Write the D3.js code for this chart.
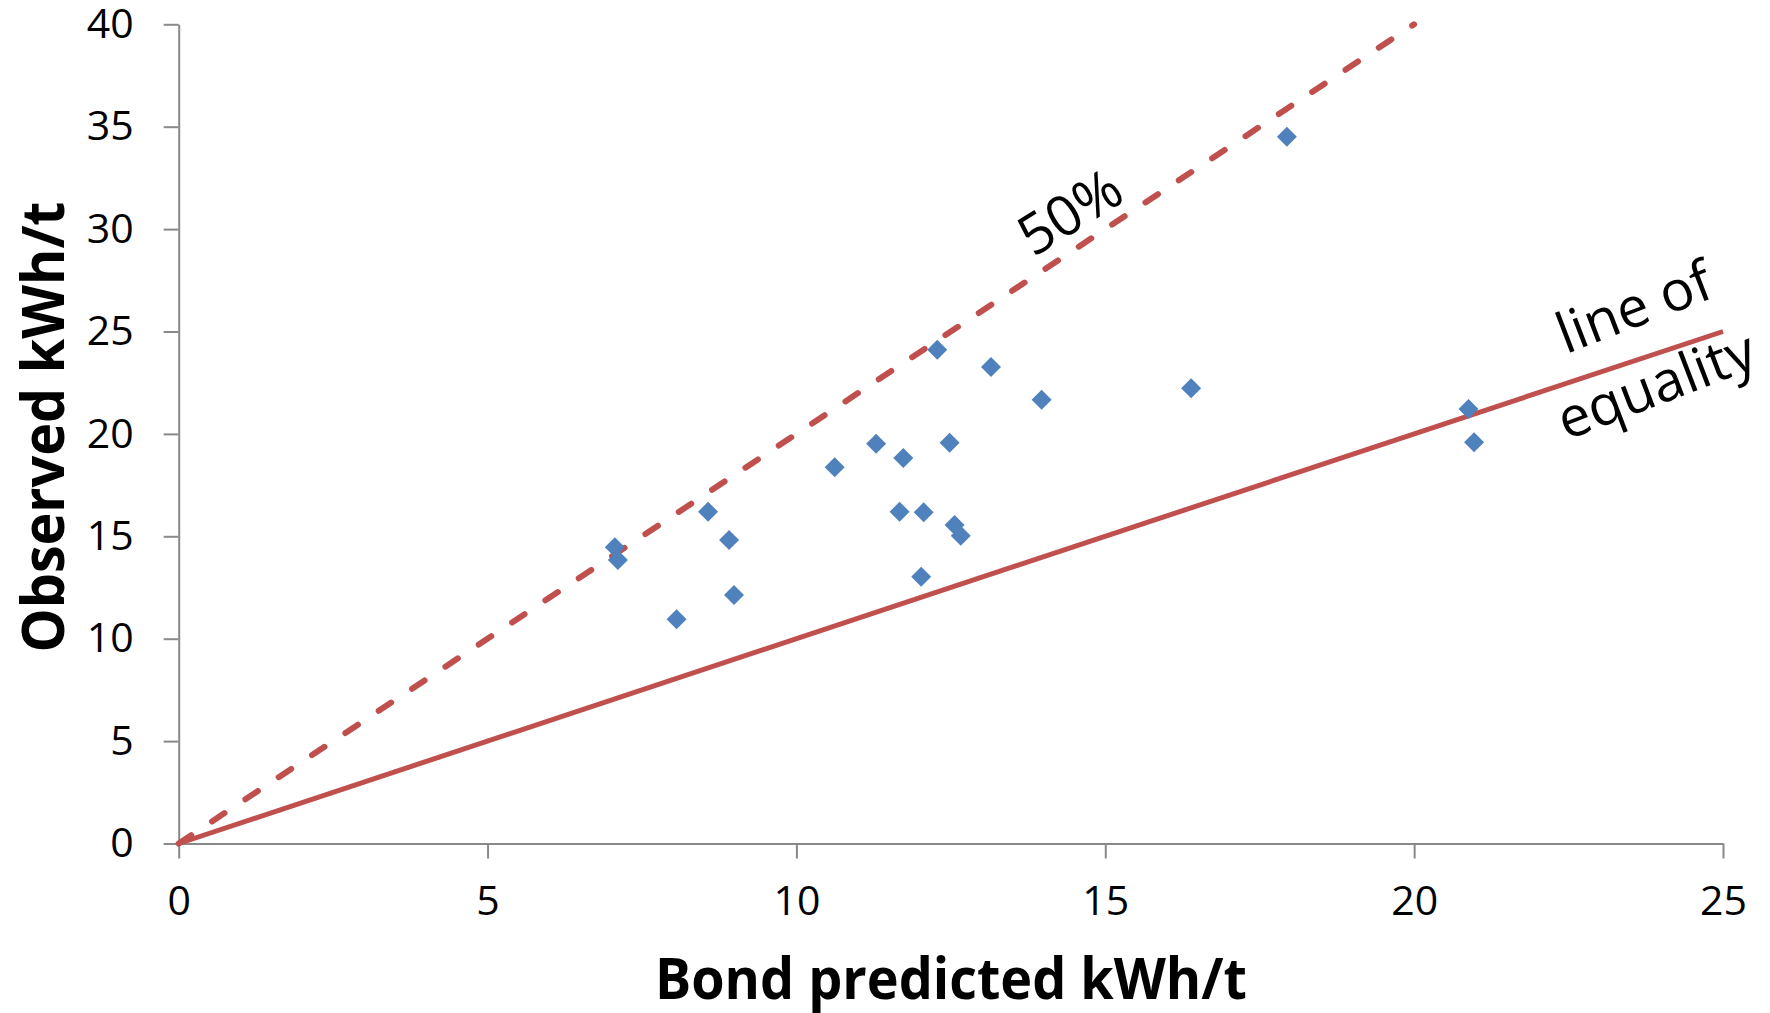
<!DOCTYPE html>
<html>
<head>
<meta charset="utf-8">
<script src="https://cdn.jsdelivr.net/npm/d3@7"></script>
<style>
  body { margin: 0; background: #fff; }
  text { font-family: "Open Sans", "Noto Sans", sans-serif; }
</style>
</head>
<body>
<div id="chart"></div>
<script>
// chart data
const bondPredicted = [7.06, 7.11, 8.06, 8.57, 8.91, 8.99, 10.62, 11.29, 11.67, 11.73, 12.02,
  12.06, 12.28, 12.48, 12.56, 12.66, 13.15, 13.97, 16.39, 17.94, 20.88, 20.97];
const observed = [14.46, 13.84, 10.95, 16.20, 14.82, 12.13, 18.37, 19.52, 16.20, 18.82, 13.03,
  16.17, 24.11, 19.57, 15.55, 15.03, 23.27, 21.67, 22.23, 34.51, 21.22, 19.59];
const xTicks = [0, 5, 10, 15, 20, 25];
const yTicks = [0, 5, 10, 15, 20, 25, 30, 35, 40];
const equalityLine = [[0, 0], [25, 25]];
const fiftyLine = [[0, 0], [20, 40]];

const width = 1770;
const height = 1013;

const svg = d3.select("#chart")
  .append("svg")
  .attr("width", width)
  .attr("height", height);

// scales
const xScale = d3.scaleLinear().domain([0, 25]).range([178.7, 1723]);
const yScale = d3.scaleLinear().domain([0, 40]).range([843.5, 24.3]);

// x axis
const xAxis = svg.append("g")
  .attr("transform", `translate(0, ${yScale(0)})`)
  .call(d3.axisBottom(xScale).tickValues(xTicks).tickSize(15).tickSizeOuter(0).tickPadding(27));

// y axis
const yAxis = svg.append("g")
  .attr("transform", `translate(${xScale(0)}, 0)`)
  .call(d3.axisLeft(yScale).tickValues(yTicks).tickSize(15).tickSizeOuter(0).tickPadding(30));

[xAxis, yAxis].forEach(ax => {
  ax.select(".domain").attr("stroke", "#898989").attr("stroke-width", 2);
  ax.selectAll(".tick line").attr("stroke", "#898989").attr("stroke-width", 2);
  ax.selectAll(".tick text")
    .attr("fill", "#000")
    .style("font-size", "41px")
    .style("font-family", "'Open Sans', sans-serif");
});

// reference lines
const line = d3.line()
  .x(d => xScale(d[0]))
  .y(d => yScale(d[1]));

svg.append("path")
  .attr("d", line(equalityLine))
  .attr("fill", "none")
  .attr("stroke", "#C0504D")
  .attr("stroke-width", 5);

svg.append("path")
  .attr("d", line(fiftyLine))
  .attr("fill", "none")
  .attr("stroke", "#C0504D")
  .attr("stroke-width", 6)
  .attr("stroke-linecap", "round")
  .attr("stroke-dasharray", "15,25");

// points (diamonds)
const points = bondPredicted.map((b, i) => ({ b, o: observed[i] }));
const diamond = d3.symbol().type(d3.symbolSquare).size(200);

svg.selectAll(".pt")
  .data(points)
  .join("path")
  .attr("class", "pt")
  .attr("d", diamond)
  .attr("transform", d => `translate(${xScale(d.b)}, ${yScale(d.o)}) rotate(45)`)
  .attr("fill", "#4F81BD");

// axis titles
svg.append("text")
  .text("Bond predicted kWh/t")
  .attr("x", 951)
  .attr("y", 999)
  .attr("text-anchor", "middle")
  .attr("font-weight", "bold")
  .attr("font-size", "57px")
  .attr("textLength", 592)
  .attr("lengthAdjust", "spacingAndGlyphs");

svg.append("text")
  .text("Observed kWh/t")
  .attr("transform", "translate(64, 427) rotate(-90)")
  .attr("text-anchor", "middle")
  .attr("font-weight", "bold")
  .attr("font-size", "59px")
  .attr("textLength", 451)
  .attr("lengthAdjust", "spacingAndGlyphs");

// line labels
svg.append("text")
  .text("50%")
  .attr("transform", "translate(1070, 212) rotate(-32)")
  .attr("text-anchor", "middle")
  .attr("dy", "0.35em")
  .attr("font-size", "56px");

svg.append("text")
  .text("line of")
  .attr("transform", "translate(1634, 307) rotate(-21)")
  .attr("text-anchor", "middle")
  .attr("dy", "0.35em")
  .attr("font-size", "56px");

svg.append("text")
  .text("equality")
  .attr("transform", "translate(1656, 385) rotate(-21)")
  .attr("text-anchor", "middle")
  .attr("dy", "0.35em")
  .attr("font-size", "56px");
</script>
</body>
</html>
